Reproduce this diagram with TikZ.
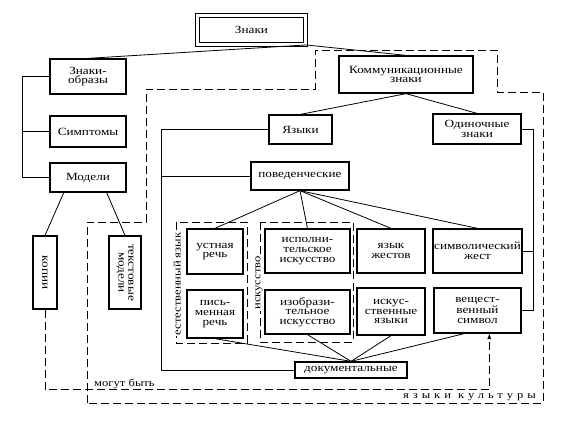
\documentclass[tikz,border=0pt]{standalone}
\usepackage{fontspec}
\setmainfont{Liberation Serif}[FakeStretch=1.2]
\begin{document}
\begin{tikzpicture}[x=1pt, y=-1pt,
	sbox/.style={draw, line width=1.3pt, align=center, inner sep=1pt, font=\fontsize{11}{9.6}\selectfont},
	slink/.style={line width=0.8pt},
	dframe/.style={dashed, dash pattern=on 8pt off 4pt, line width=0.9pt},
	vlabel/.style={fill=white, inner sep=1pt, font=\fontsize{10.5}{9}\selectfont}]
	\useasboundingbox (0,0) rectangle (565,422);

	%% Obere Ebene
	\node[sbox, double, line width=0.9pt, double distance=3pt, minimum width=108pt, minimum height=29pt] (znaki) at (251.5,30) {Знаки};
	\node[sbox, minimum width=76pt, minimum height=35pt] (obrazy) at (88,76.5) {Знаки-\\образы};
	\node[sbox, minimum width=76pt, minimum height=31pt] (simptomy) at (88,131.5) {Симптомы};
	\node[sbox, minimum width=76pt, minimum height=29pt] (modeli) at (88,177.5) {Модели};
	\node[sbox, rotate=-90, minimum width=73pt, minimum height=24pt] (kopii) at (45,272.5) {копии};
	\node[sbox, rotate=-90, minimum width=73pt, minimum height=32pt] (tekst) at (125,272.5) {текстовые\\модели};
	\node[sbox, minimum width=134pt, minimum height=37pt] (komm) at (406,74.5) {Коммуникационные\\знаки};
	\node[sbox, minimum width=63pt, minimum height=29pt] (yazyki) at (300.5,129.5) {Языки};
	\node[sbox, minimum width=88pt, minimum height=30pt] (odin) at (477,129) {Одиночные\\знаки};
	\node[sbox, minimum width=98pt, minimum height=28pt] (poved) at (300,176) {поведенческие};
	%%%%%%%%%%%%%%%%

	%% Sprachen
	\node[sbox, minimum width=56pt, minimum height=45pt] (ustn) at (215,251.5) {устная\\речь};
	\node[sbox, minimum width=56pt, minimum height=48pt] (pism) at (215,314) {пись-\\менная\\речь};
	\node[sbox, minimum width=85pt, minimum height=44pt] (ispoln) at (307.5,251) {исполни-\\тельское\\искусство};
	\node[sbox, minimum width=85pt, minimum height=44pt] (izobr) at (307.5,312) {изобрази-\\тельное\\искусство};
	\node[sbox, minimum width=68pt, minimum height=44pt] (zhest) at (391,251) {язык\\жестов};
	\node[sbox, minimum width=68pt, minimum height=47pt] (iskyaz) at (391,311.5) {искус-\\ственные\\языки};
	\node[sbox, minimum width=87pt, minimum height=44pt] (simvzh) at (477.5,251) {символический\\жест};
	\node[sbox, minimum width=87pt, minimum height=45pt] (veshch) at (477.5,310.5) {вещест-\\венный\\символ};
	\node[sbox, minimum width=112pt, minimum height=16pt] (dokum) at (351,370) {документальные};
	%%%%%%%%%%%%%%%%

	%% Gestrichelte Rahmen
	\draw[dframe] (87,403) -- (87,222) -- (146,222) -- (146,89) -- (315,89) -- (315,50) -- (497,50) -- (497,92) -- (543,92) -- (543,403) -- cycle;
	\draw[dframe] (176,222) rectangle (247,343);
	\draw[dframe] (260,222) rectangle (353,342);
	\node[vlabel, rotate=90] (estlab) at (177,284) {естественный язык};
	\node[vlabel, rotate=90] (isklab) at (259,283) {искусство};
	\node[vlabel, fill=none, anchor=base east] (kultlab) at (537,398) {\addfontfeatures{LetterSpace=38}языки культуры};
	\node[vlabel, fill=none, anchor=base west, inner sep=0pt] (mogut) at (94,386) {могут быть};

	%% Verbindungen
	\draw[slink] (znaki.south east) -- (obrazy.north);
	\draw[slink] (znaki.south east) -- (komm.north);
	\draw[slink] (obrazy.west) -- ++(-27,0) |- (modeli.west);
	\draw[slink] (simptomy.west) -- ++(-27,0);
	\draw[slink] (modeli.212) -- (kopii.west);
	\draw[slink] (modeli.-39) -- (tekst.west);
	\draw[slink] (komm.south) -- (yazyki.north);
	\draw[slink] (komm.south) -- (odin.north);
	\draw[slink] (yazyki.west) -- ++(-107,0) coordinate (lbr) |- (dokum.west);
	\draw[slink] (poved.west) -- (poved.west -| lbr);
	\draw[slink] (odin.east) -- ++(12,0) coordinate (rbr) |- (veshch.east);
	\draw[slink] (simvzh.east) -- (simvzh.east -| rbr);
	\foreach \n in {ustn, ispoln, zhest, simvzh}
		\draw[slink] (poved.south) -- (\n.north);
	\foreach \n in {pism, izobr, iskyaz}
		\draw[slink] (dokum.north) -- (\n.south);
	\draw[slink] (dokum.north) -- (veshch.240);
	\draw[dframe, -latex] (kopii.east) -- ++(0,80) -| (veshch.-63);
\end{tikzpicture}
\end{document}
